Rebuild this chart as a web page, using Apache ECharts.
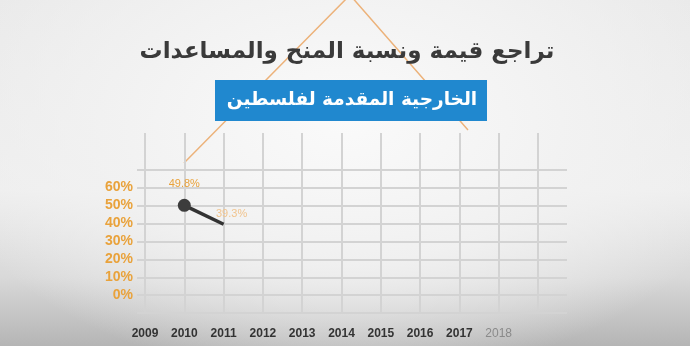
<!DOCTYPE html>
<html>
<head>
<meta charset="utf-8">
<script src="https://cdn.jsdelivr.net/npm/echarts@6/dist/echarts.min.js"></script>
<style>
html,body{margin:0;padding:0;width:690px;height:346px;overflow:hidden;}
body{background:
 radial-gradient(ellipse 420px 260px at 345px 120px, rgba(250,250,250,1) 0%, rgba(242,242,242,0.9) 55%, rgba(240,240,240,0) 100%),
 linear-gradient(to bottom, #e9e9e9 0%, #eeeeee 55%, #d9d9d9 80%, #b5b5b5 100%);}
#c{width:690px;height:346px;}
</style>
</head>
<body>
<div id="c"></div>
<script>
const titleLine1 = 'تراجع قيمة ونسبة المنح والمساعدات';
const titleLine2 = 'الخارجية المقدمة لفلسطين';
const years = ['2009','2010','2011','2012','2013','2014','2015','2016','2017','2018',''];
const shareValues = [null, 49.8, 39.3, null, null, null, null, null, null, null, null];
const yTickLabels = [0, 10, 20, 30, 40, 50, 60];

const chart = echarts.init(document.getElementById('c'), null, {renderer:'canvas'});
const gridColor = '#d3d3d3';
const orange = '#e9a23b';

const xData = years.map(y => y === '2018'
  ? {value: y, textStyle: {color: '#8a8a8a', fontWeight: 'normal'}}
  : {value: y});

const seriesData = shareValues.map((v, i) => {
  if (v == null) return null;
  if (i === 2) {
    return {value: v, symbolSize: 0,
      label: {show: true, color: '#f1c48e', distance: 5, offset: [8, 0]}};
  }
  return {value: v};
});

chart.setOption({
  animation: false,
  backgroundColor: 'transparent',
  grid: [
    {left: 145, right: 152, top: 133, bottom: 33},
    {left: 137, right: 123, top: 170, bottom: 33}
  ],
  xAxis: [
    {type: 'category', gridIndex: 0, data: xData, boundaryGap: false,
     axisLine: {show: false},
     axisTick: {show: true, length: 7, lineStyle: {color: gridColor, width: 2}},
     axisLabel: {margin: 15, color: '#333', fontWeight: 'bold', fontSize: 12, fontFamily: 'Liberation Sans, Arial'},
     splitLine: {show: true, lineStyle: {color: gridColor, width: 2}}},
    {type: 'value', gridIndex: 1, show: false, min: 0, max: 1}
  ],
  yAxis: [
    {type: 'value', gridIndex: 0, min: -10, max: 90, interval: 10,
     axisLine: {show: false}, axisTick: {show: false}, splitLine: {show: false},
     axisLabel: {margin: 12, color: orange, fontWeight: 'bold', fontSize: 14,
       fontFamily: 'Liberation Sans, Arial',
       formatter: v => yTickLabels.indexOf(v) >= 0 ? v + '%' : ''}},
    {type: 'value', gridIndex: 1, min: -10, max: 70, interval: 10,
     axisLine: {show: false}, axisTick: {show: false}, axisLabel: {show: false},
     splitLine: {show: true, lineStyle: {color: gridColor, width: 2}}}
  ],
  graphic: [
    {type: 'polyline', z: -1, shape: {points: [[184, 163], [350, -5], [468, 130]]},
     style: {stroke: '#ecb27a', lineWidth: 1.5, fill: null}},
    {type: 'text', x: 347, y: 52, z: 10,
     style: {text: titleLine1, fill: '#3a3a3a', font: 'bold 23px "DejaVu Sans"', textAlign: 'center', textVerticalAlign: 'middle'}},
    {type: 'rect', shape: {x: 215, y: 80, width: 272, height: 41}, z: 10,
     style: {fill: '#2088cf'}},
    {type: 'text', x: 352, y: 100, z: 11,
     style: {text: titleLine2, fill: '#ffffff', font: 'bold 18.5px "DejaVu Sans"', textAlign: 'center', textVerticalAlign: 'middle'}}
  ],
  series: [{
    type: 'line', xAxisIndex: 0, yAxisIndex: 0,
    data: seriesData,
    connectNulls: false,
    symbol: 'circle', symbolSize: 13,
    itemStyle: {color: '#3c3c3c'},
    lineStyle: {color: '#333', width: 3.5},
    label: {show: true, position: 'top', distance: 9, color: orange, fontSize: 11,
      fontFamily: 'Liberation Sans, Arial', formatter: p => p.value + '%'}
  }]
});
</script>
</body>
</html>
